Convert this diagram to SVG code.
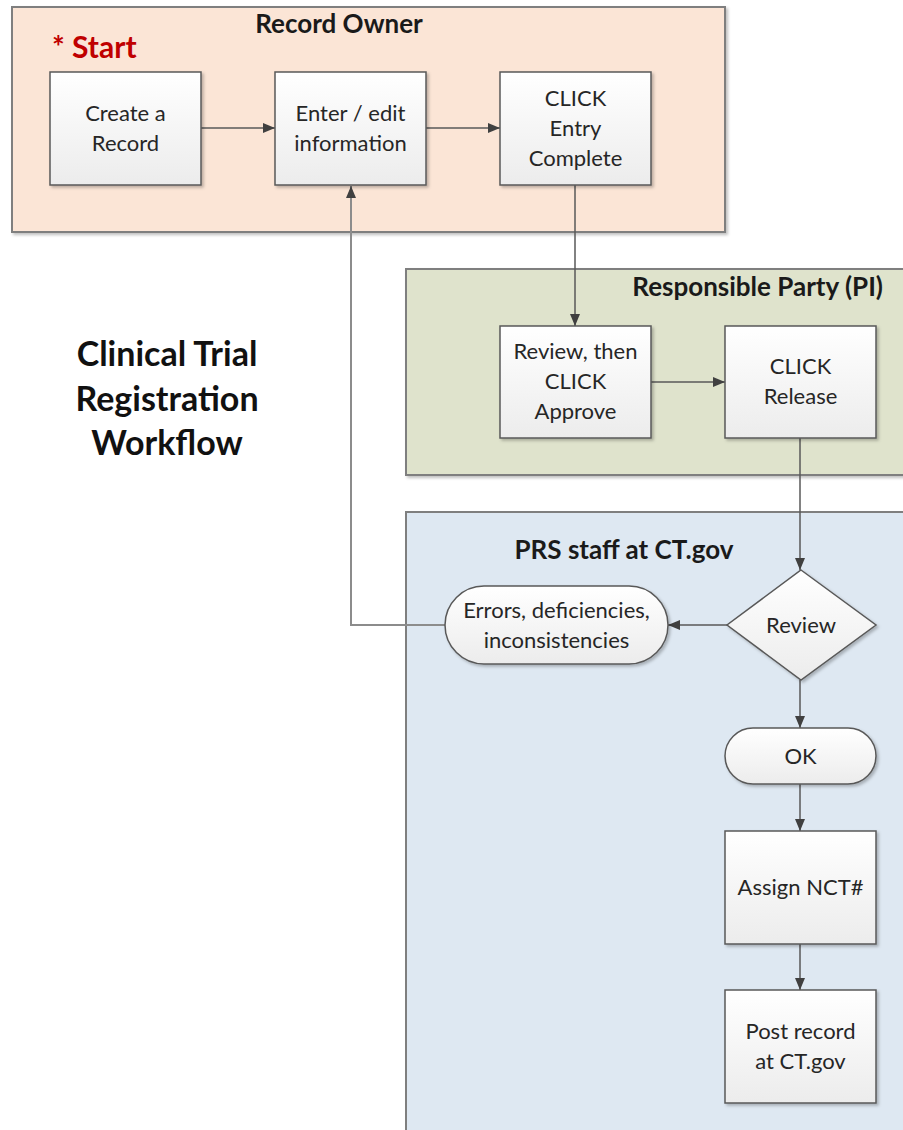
<svg xmlns="http://www.w3.org/2000/svg" width="903" height="1130" viewBox="0 0 903 1130">
<defs>
<linearGradient id="g" x1="0" y1="0" x2="0" y2="1">
<stop offset="0" stop-color="#ffffff"/>
<stop offset="1" stop-color="#ececec"/>
</linearGradient>
<filter id="sh" x="-10%" y="-10%" width="125%" height="125%">
<feDropShadow dx="2" dy="2" stdDeviation="1.5" flood-color="#000" flood-opacity="0.25"/>
</filter>
<marker id="ah" viewBox="0 0 12 10" refX="12" refY="5" markerWidth="12" markerHeight="10" markerUnits="userSpaceOnUse" orient="auto">
<path d="M0,0 L12,5 L0,10 Z" fill="#404040"/>
</marker>
<style>
.lane{stroke:#7f7f7f;stroke-width:2}
.node{fill:url(#g);stroke:#595959;stroke-width:1.5;filter:url(#sh)}
.t{font-family:Lato,"Liberation Sans",sans-serif;font-size:22px;fill:#262626;text-anchor:middle}
.h{font-family:Lato,"Liberation Sans",sans-serif;font-size:26px;font-weight:bold;fill:#1a1a1a}
.c{fill:none;stroke:#595959;stroke-width:1.5}
.r{fill:none;stroke:#8c8c8c;stroke-width:2}
</style>
</defs>
<g id="lanes">
<rect class="lane" x="12" y="7" width="713" height="225" fill="#fbe5d6" filter="url(#sh)"/>
<rect class="lane" x="406" y="269" width="510" height="206" fill="#dfe3cc" filter="url(#sh)"/>
<rect class="lane" x="406" y="512" width="510" height="640" fill="#dee8f2"/>
</g>
<g id="labels">
<text class="h" x="339" y="33" text-anchor="middle">Record Owner</text>
<text x="52" y="58" font-family="Lato,'Liberation Sans',sans-serif" font-size="30" font-weight="bold" fill="#c00000">* Start</text>
<text class="h" x="883" y="296" text-anchor="end">Responsible Party (PI)</text>
<text class="h" x="624" y="559" text-anchor="middle">PRS staff at CT.gov</text>
<text font-family="Lato,'Liberation Sans',sans-serif" font-size="34" font-weight="bold" fill="#111" text-anchor="middle"><tspan x="167" y="366">Clinical Trial</tspan><tspan x="167" y="411">Registration</tspan><tspan x="167" y="455">Workflow</tspan></text>
</g>
<g id="connectors">
<line class="c" x1="201" y1="128" x2="275" y2="128" marker-end="url(#ah)"/>
<line class="c" x1="426" y1="128" x2="500" y2="128" marker-end="url(#ah)"/>
<polyline class="c" points="575,185 575,326" marker-end="url(#ah)"/>
<line class="c" x1="651" y1="382" x2="725" y2="382" marker-end="url(#ah)"/>
<polyline class="c" points="800,438 800,570" marker-end="url(#ah)"/>
<line class="c" x1="727" y1="625" x2="668" y2="625" marker-end="url(#ah)"/>
<polyline class="r" points="445,625 351,625 351,186" marker-end="url(#ah)"/>
<line class="c" x1="800" y1="680" x2="800" y2="728" marker-end="url(#ah)"/>
<line class="c" x1="800" y1="784" x2="800" y2="831" marker-end="url(#ah)"/>
<line class="c" x1="800" y1="944" x2="800" y2="990" marker-end="url(#ah)"/>
</g>
<g id="create">
<rect class="node" x="50" y="72" width="151" height="113"/>
<text class="t"><tspan x="125.5" y="121">Create a</tspan><tspan x="125.5" y="151">Record</tspan></text>
</g>
<g id="enter">
<rect class="node" x="275" y="72" width="151" height="113"/>
<text class="t"><tspan x="350.5" y="121">Enter / edit</tspan><tspan x="350.5" y="151">information</tspan></text>
</g>
<g id="entry-complete">
<rect class="node" x="500" y="72" width="151" height="113"/>
<text class="t"><tspan x="575.5" y="106">CLICK</tspan><tspan x="575.5" y="136">Entry</tspan><tspan x="575.5" y="166">Complete</tspan></text>
</g>
<g id="approve">
<rect class="node" x="500" y="326" width="151" height="112"/>
<text class="t"><tspan x="575.5" y="359">Review, then</tspan><tspan x="575.5" y="389">CLICK</tspan><tspan x="575.5" y="419">Approve</tspan></text>
</g>
<g id="release">
<rect class="node" x="725" y="326" width="151" height="112"/>
<text class="t"><tspan x="800.5" y="374">CLICK</tspan><tspan x="800.5" y="404">Release</tspan></text>
</g>
<g id="review">
<polygon class="node" points="801,570 876,625 801,680 727,625"/>
<text class="t" x="801" y="633">Review</text>
</g>
<g id="errors">
<rect class="node" x="445" y="586" width="223" height="78" rx="39" ry="39"/>
<text class="t"><tspan x="556.5" y="618">Errors, deficiencies,</tspan><tspan x="556.5" y="648">inconsistencies</tspan></text>
</g>
<g id="ok">
<rect class="node" x="725" y="728" width="151" height="56" rx="28" ry="28"/>
<text class="t" x="800.5" y="764">OK</text>
</g>
<g id="assign">
<rect class="node" x="725" y="831" width="151" height="113"/>
<text class="t" x="800.5" y="895">Assign NCT#</text>
</g>
<g id="post">
<rect class="node" x="725" y="990" width="151" height="113"/>
<text class="t"><tspan x="800.5" y="1039">Post record</tspan><tspan x="800.5" y="1069">at CT.gov</tspan></text>
</g>
</svg>
